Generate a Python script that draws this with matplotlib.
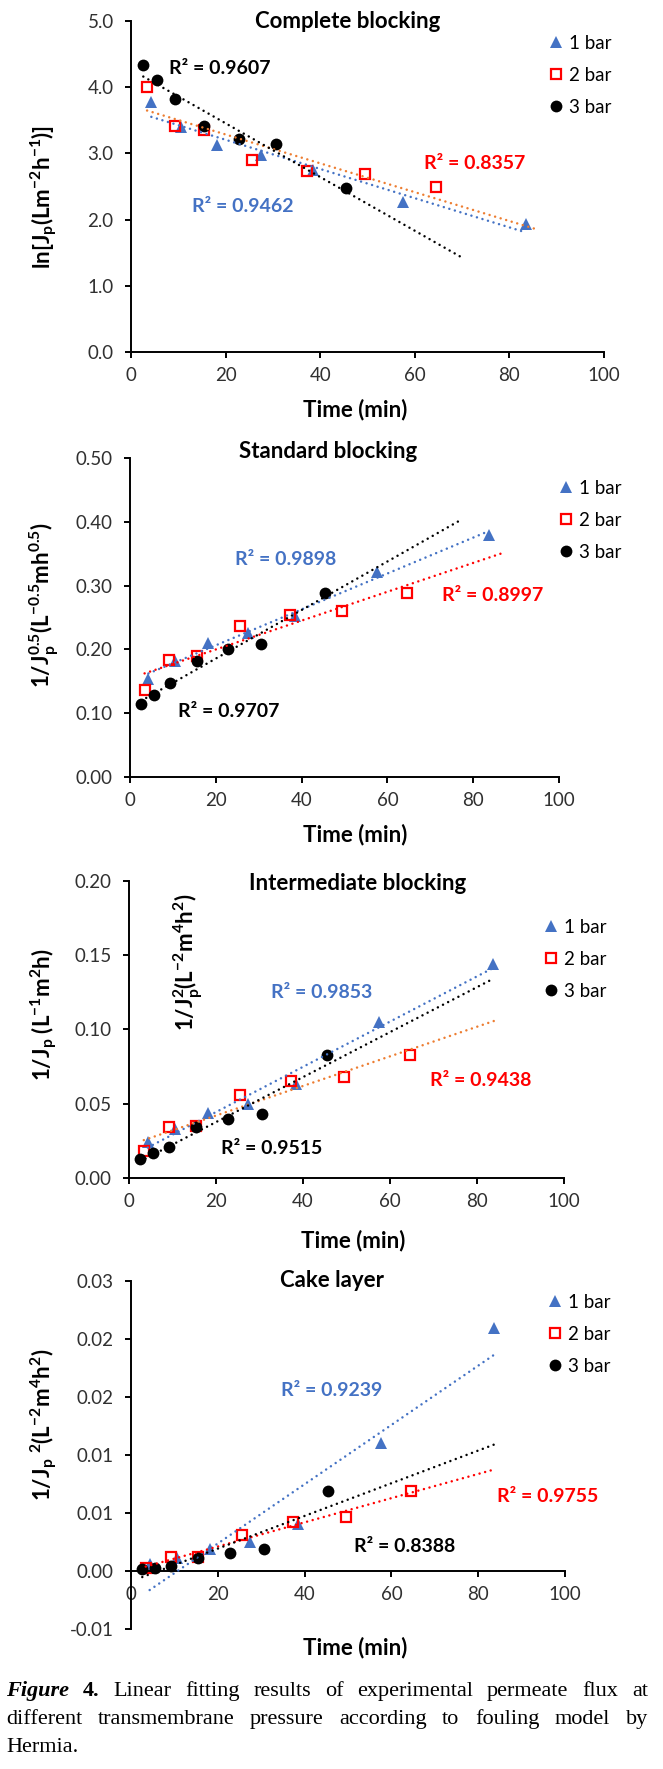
import numpy as np
import matplotlib
matplotlib.use("Agg")
import matplotlib.pyplot as plt
from matplotlib.ticker import FuncFormatter

plt.rcParams['font.family'] = ['Lato', 'DejaVu Sans']
plt.rcParams['mathtext.default'] = 'regular'

# sampling times (min) for each pressure
time_1bar = [4.3, 10.5, 18.2, 27.4, 38.5, 57.5, 83.6]
time_2bar = [3.4, 9.2, 15.5, 25.6, 37.3, 49.5, 64.5]
time_3bar = [2.6, 5.6, 9.3, 15.5, 22.8, 30.6, 45.4]

# complete blocking: ln(Jp)
complete_1bar = [3.78, 3.40, 3.12, 2.98, 2.75, 2.27, 1.94]
complete_2bar = [4.01, 3.41, 3.35, 2.90, 2.74, 2.69, 2.49]
complete_3bar = [4.33, 4.11, 3.83, 3.41, 3.22, 3.14, 2.48]

# standard blocking: 1/Jp^0.5
standard_1bar = [0.154, 0.182, 0.210, 0.226, 0.252, 0.322, 0.380]
standard_2bar = [0.136, 0.183, 0.189, 0.236, 0.254, 0.260, 0.288]
standard_3bar = [0.115, 0.128, 0.147, 0.182, 0.200, 0.208, 0.288]

# intermediate blocking: 1/Jp
inter_1bar = [0.024, 0.033, 0.044, 0.050, 0.063, 0.105, 0.144]
inter_2bar = [0.018, 0.034, 0.035, 0.056, 0.065, 0.068, 0.083]
inter_3bar = [0.013, 0.017, 0.021, 0.034, 0.040, 0.043, 0.083]

# cake layer: 1/Jp^2
cake_1bar = [0.0006, 0.0011, 0.0019, 0.0025, 0.0041, 0.0110, 0.0210]
cake_2bar = [0.0003, 0.0012, 0.0012, 0.0031, 0.0042, 0.0047, 0.0069]
cake_3bar = [0.0002, 0.0003, 0.0004, 0.0011, 0.0016, 0.0019, 0.0069]

# where Excel stopped drawing each trendline (forecast forward)
complete_fit_end = [83.6, 85.4, 70.3]
standard_fit_end = [83.7, 86.5, 77.5]
inter_fit_end = [83.5, 84.0, 83.5]
cake_fit_end = [83.5, 83.9, 83.6]

complete_r2 = ['0.9462', '0.8357', '0.9607']
standard_r2 = ['0.9898', '0.8997', '0.9707']
inter_r2 = ['0.9853', '0.9438', '0.9515']
cake_r2 = ['0.9239', '0.9755', '0.8388']

series_labels = ['1 bar', '2 bar', '3 bar']
times = [time_1bar, time_2bar, time_3bar]

BLUE, RED, ORANGE, BLACK = '#4472C4', '#FF0000', '#ED7D31', '#000000'
TICK_COL = '#303030'
W, H = 663, 1769


def half_up(nd):
    # Excel rounds 0.005 -> 0.01, 0.015 -> 0.02 on the axis
    def f(v, pos):
        q = np.floor(abs(v) * 10 ** nd + 0.5 + 1e-9) / 10 ** nd
        if q == 0:
            return f"{0:.{nd}f}"
        return f"{np.sign(v) * q:.{nd}f}"
    return FuncFormatter(f)


fig = plt.figure(figsize=(W / 100, H / 100), dpi=100)

panels = [
    dict(rect=[0.1976, 0.8010, 0.7134, 0.1871], ys=[complete_1bar, complete_2bar, complete_3bar],
         ends=complete_fit_end, r2=complete_r2, fitcols=[BLUE, ORANGE, BLACK],
         ylim=(0, 5), yticks=np.arange(0, 5.01, 1), ydec=1,
         title='Complete blocking', tpos=(0.458, 1.0),
         ylabel='ln[J$_p$(Lm$^{-2}$h$^{-1}$)]', ylpos=(-0.182, 0.468), xlpos=(0.475, -0.175),
         r2pos=[(13.0, 2.2), (61.9, 2.85), (8.1, 4.28)], legpos=(0.885, 0.958)),
    dict(rect=[0.1961, 0.5608, 0.6471, 0.1803], ys=[standard_1bar, standard_2bar, standard_3bar],
         ends=standard_fit_end, r2=standard_r2, fitcols=[BLUE, RED, BLACK],
         ylim=(0, 0.5), yticks=np.arange(0, 0.501, 0.1), ydec=2,
         title='Standard blocking', tpos=(0.461, 1.02),
         ylabel='1/J$_p^{0.5}$(L$^{-0.5}$mh$^{0.5}$)', ylpos=(-0.2, 0.539), xlpos=(0.525, -0.182),
         r2pos=[(24.4, 0.341), (72.7, 0.285), (11.1, 0.103)], legpos=(1.001, 0.931)),
    dict(rect=[0.1946, 0.3341, 0.6561, 0.1679], ys=[inter_1bar, inter_2bar, inter_3bar],
         ends=inter_fit_end, r2=inter_r2, fitcols=[BLUE, ORANGE, BLACK],
         ylim=(0, 0.2), yticks=np.arange(0, 0.201, 0.05), ydec=2,
         title='Intermediate blocking', tpos=(0.525, 0.992),
         ylabel='1/J$_p$ (L$^{-1}$m$^2$h)', ylpos=(-0.194, 0.549), xlpos=(0.516, -0.209),
         r2pos=[(32.6, 0.125), (69.1, 0.0657), (21.1, 0.020)], legpos=(0.954, 0.872)),
    dict(rect=[0.1976, 0.0791, 0.6546, 0.1967], ys=[cake_1bar, cake_2bar, cake_3bar],
         ends=cake_fit_end, r2=cake_r2, fitcols=[BLUE, RED, BLACK],
         ylim=(-0.005, 0.025), yticks=np.arange(-0.005, 0.0251, 0.005), ydec=2,
         title='Cake layer', tpos=(0.462, 1.003),
         ylabel='1/J$_p$ $^2$(L$^{-2}$m$^4$h$^2$)', ylpos=(-0.2, 0.586), xlpos=(0.516, -0.052),
         r2pos=[(34.5, 0.0156), (84.3, 0.00647), (51.4, 0.00216)], legpos=(0.961, 0.963)),
]

marker_styles = [
    dict(marker='^', color=BLUE, markersize=8.5, markeredgewidth=0),
    dict(marker='s', markerfacecolor='none', markeredgecolor=RED, markersize=6.5, markeredgewidth=1.6),
    dict(marker='o', color=BLACK, markersize=8.5, markeredgewidth=0),
]
r2_colors = [BLUE, RED, BLACK]

for i, p in enumerate(panels):
    ax = fig.add_axes(p['rect'])
    handles = []
    for k in range(3):
        x = np.array(times[k])
        y = np.array(p['ys'][k])
        h, = ax.plot(x, y, linestyle='none', zorder=2, label=series_labels[k], **marker_styles[k])
        handles.append(h)
        slope, icpt = np.polyfit(x, y, 1)
        xf = np.array([x.min(), p['ends'][k]])
        ax.plot(xf, slope * xf + icpt, linestyle=(0, (0.01, 2.3)), linewidth=1.8,
                color=p['fitcols'][k], zorder=3, dash_capstyle='round')
        ax.text(p['r2pos'][k][0], p['r2pos'][k][1], 'R² = ' + p['r2'][k], color=r2_colors[k],
                fontsize=14, fontweight='bold', ha='left', va='center')

    ax.set_xlim(0, 100)
    ax.set_ylim(*p['ylim'])
    ax.set_xticks(np.arange(0, 101, 20))
    ax.set_yticks(p['yticks'])
    ax.yaxis.set_major_formatter(half_up(p['ydec']))
    for s in ['top', 'right']:
        ax.spines[s].set_visible(False)
    for s in ['left', 'bottom']:
        ax.spines[s].set_linewidth(1.4)
    if i == 3:
        ax.spines['bottom'].set_position(('data', 0))
    ax.tick_params(axis='both', direction='out', length=4.5, width=1.4, labelsize=13.5,
                   labelcolor=TICK_COL)
    ax.tick_params(axis='y', pad=8)
    ax.tick_params(axis='x', pad=6)

    ax.text(p['tpos'][0], p['tpos'][1], p['title'], transform=ax.transAxes, ha='center',
            va='center', fontsize=16, fontweight='bold')
    ax.set_xlabel('Time (min)', fontsize=16, fontweight='bold', va='center')
    ax.xaxis.set_label_coords(*p['xlpos'])
    ax.set_ylabel(p['ylabel'], fontsize=16, fontweight='bold', va='center')
    ax.yaxis.set_label_coords(*p['ylpos'])

    ax.legend(handles=handles, loc='upper left', bbox_to_anchor=p['legpos'], frameon=False,
              fontsize=13.5, handlelength=0.7, handletextpad=0.35, labelspacing=0.8,
              borderpad=0, borderaxespad=0)

    if i == 2:
        ax.text(0.136, 0.727, '1/J$_p^2$(L$^{-2}$m$^4$h$^2$)', transform=ax.transAxes,
                rotation=90, ha='center', va='center', fontsize=16, fontweight='bold')

# caption, justified like the journal text
renderer = fig.canvas.get_renderer()
cap_size = 16
cap_lines = [
    [('Figure', 'bold', 'italic'), ('4.', 'bold', 'normal')] +
    [(w, 'normal', 'normal') for w in 'Linear fitting results of experimental permeate flux at'.split()],
    [(w, 'normal', 'normal') for w in 'different transmembrane pressure according to fouling model by'.split()],
    [('Hermia.', 'normal', 'normal')],
]
cap_base = [1696, 1724, 1752]
x_left, x_right = 6, 648
for li, words in enumerate(cap_lines):
    objs = [fig.text(0, 1 - cap_base[li] / H, w, fontsize=cap_size, family='Liberation Serif',
                     fontweight=wt, fontstyle=st, va='baseline', ha='left')
            for w, wt, st in words]
    widths = [t.get_window_extent(renderer).width for t in objs]
    if li < 2 and len(objs) > 1:
        gap = (x_right - x_left - sum(widths)) / (len(objs) - 1)
    else:
        gap = 5
    xpos = x_left
    for t, wd in zip(objs, widths):
        t.set_x(xpos / W)
        xpos += wd + gap

fig.savefig('out.png', dpi=100)
